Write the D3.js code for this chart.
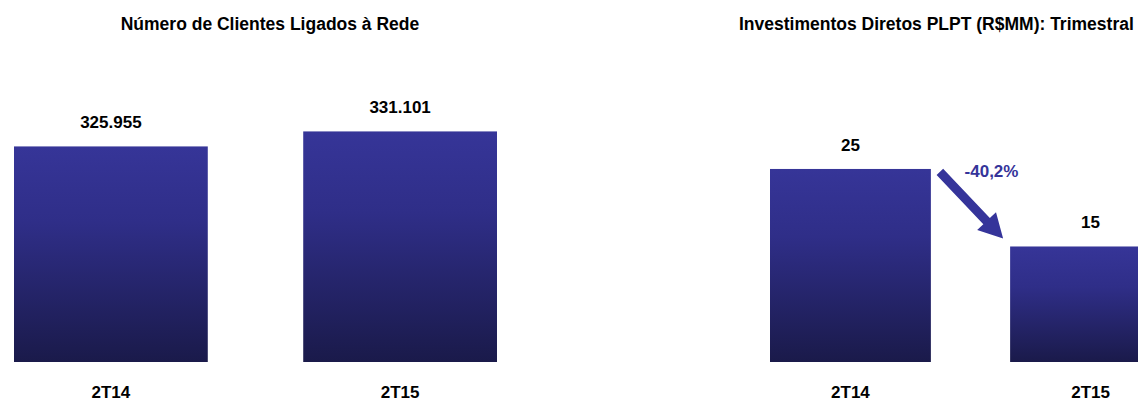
<!DOCTYPE html>
<html>
<head>
<meta charset="utf-8">
<script src="https://cdn.jsdelivr.net/npm/d3@7"></script>
<style>
  body { margin: 0; background: #fff; }
  svg text { font-family: "Liberation Sans", Arial, sans-serif; font-weight: bold; }
</style>
</head>
<body>
<svg id="chart" width="1138" height="401"></svg>
<script>
// data
const categories = ["2T14", "2T15"];
const clientes = [325955, 331101];
const investimentos = [25.4, 15.2];
const titleClientes = "Número de Clientes Ligados à Rede";
const titleInvest = "Investimentos Diretos PLPT (R$MM): Trimestral";

const svgWidth = 1138, svgHeight = 401;
const baseY = 362;

const ptBR = d3.formatLocale({ decimal: ",", thousands: ".", grouping: [3], currency: ["R$", ""], minus: "-" });
const fmtInt = ptBR.format(",.0f");
const fmtPct = ptBR.format(".1%");

const svg = d3.select("#chart");

// gradient for bars
const grad = svg.append("defs").append("linearGradient")
    .attr("id", "barGrad")
    .attr("x1", 0).attr("y1", 0).attr("x2", 0).attr("y2", 1);
grad.append("stop").attr("offset", "0%").attr("stop-color", "#363598");
grad.append("stop").attr("offset", "35%").attr("stop-color", "#2f2e88");
grad.append("stop").attr("offset", "100%").attr("stop-color", "#1a1a4a");

function drawBars(values, xRange, yScale, fmt) {
    const x = d3.scaleBand()
        .domain(categories)
        .range(xRange)
        .paddingInner(0.33)
        .paddingOuter(0);

    const g = svg.append("g");

    g.selectAll("rect")
        .data(values)
        .enter()
        .append("rect")
        .attr("x", (d, i) => x(categories[i]))
        .attr("y", d => yScale(d))
        .attr("width", x.bandwidth())
        .attr("height", d => baseY - yScale(d))
        .style("fill", "url(#barGrad)");

    g.selectAll("text.value")
        .data(values)
        .enter()
        .append("text")
        .attr("class", "value")
        .attr("x", (d, i) => x(categories[i]) + x.bandwidth() / 2)
        .attr("y", d => yScale(d) - 18)
        .attr("text-anchor", "middle")
        .style("font-size", "17px")
        .text(d => fmt(d));

    g.selectAll("text.cat")
        .data(categories)
        .enter()
        .append("text")
        .attr("class", "cat")
        .attr("x", d => x(d) + x.bandwidth() / 2)
        .attr("y", 398)
        .attr("text-anchor", "middle")
        .style("font-size", "17px")
        .text(d => d);

    return x;
}

/* --------- LEFT: clientes --------- */
svg.append("text")
    .attr("x", 270).attr("y", 30)
    .attr("text-anchor", "middle")
    .style("font-size", "17.5px")
    .text(titleClientes);

const yLeft = d3.scaleLinear()
    .domain([252000, 352000])
    .range([baseY, baseY - 291.5]);
drawBars(clientes, [14, 497], yLeft, fmtInt);

/* --------- RIGHT: investimentos --------- */
svg.append("text")
    .attr("x", 739).attr("y", 30)
    .attr("text-anchor", "start")
    .style("font-size", "17.5px")
    .text(titleInvest);

const yRight = d3.scaleLinear()
    .domain([0, 30])
    .range([baseY, baseY - 228]);
const xR = drawBars(investimentos, [770, 1171], yRight, d3.format(".0f"));

// arrow between bars
const ax0 = xR(categories[0]) + xR.bandwidth() + 9, ay0 = yRight(investimentos[0]) + 3;
const ax1 = xR(categories[1]) - 7, ay1 = yRight(investimentos[1]) - 8;
const ang = Math.atan2(ay1 - ay0, ax1 - ax0);
const len = Math.hypot(ax1 - ax0, ay1 - ay0);
const headLen = 24, headW = 13, shaftW = 4.5;
const pts = [
    [0, -shaftW], [len - headLen, -shaftW], [len - headLen, -headW],
    [len, 0],
    [len - headLen, headW], [len - headLen, shaftW], [0, shaftW]
];
svg.append("polygon")
    .attr("points", pts.map(p => p.join(",")).join(" "))
    .attr("transform", `translate(${ax0},${ay0}) rotate(${ang * 180 / Math.PI})`)
    .style("fill", "#35349a");

svg.append("text")
    .attr("x", (ax0 + ax1) / 2 + 20)
    .attr("y", ay0 + 5)
    .attr("text-anchor", "middle")
    .style("font-size", "17px")
    .style("fill", "#35349a")
    .text(fmtPct(investimentos[1] / investimentos[0] - 1));
</script>
</body>
</html>
